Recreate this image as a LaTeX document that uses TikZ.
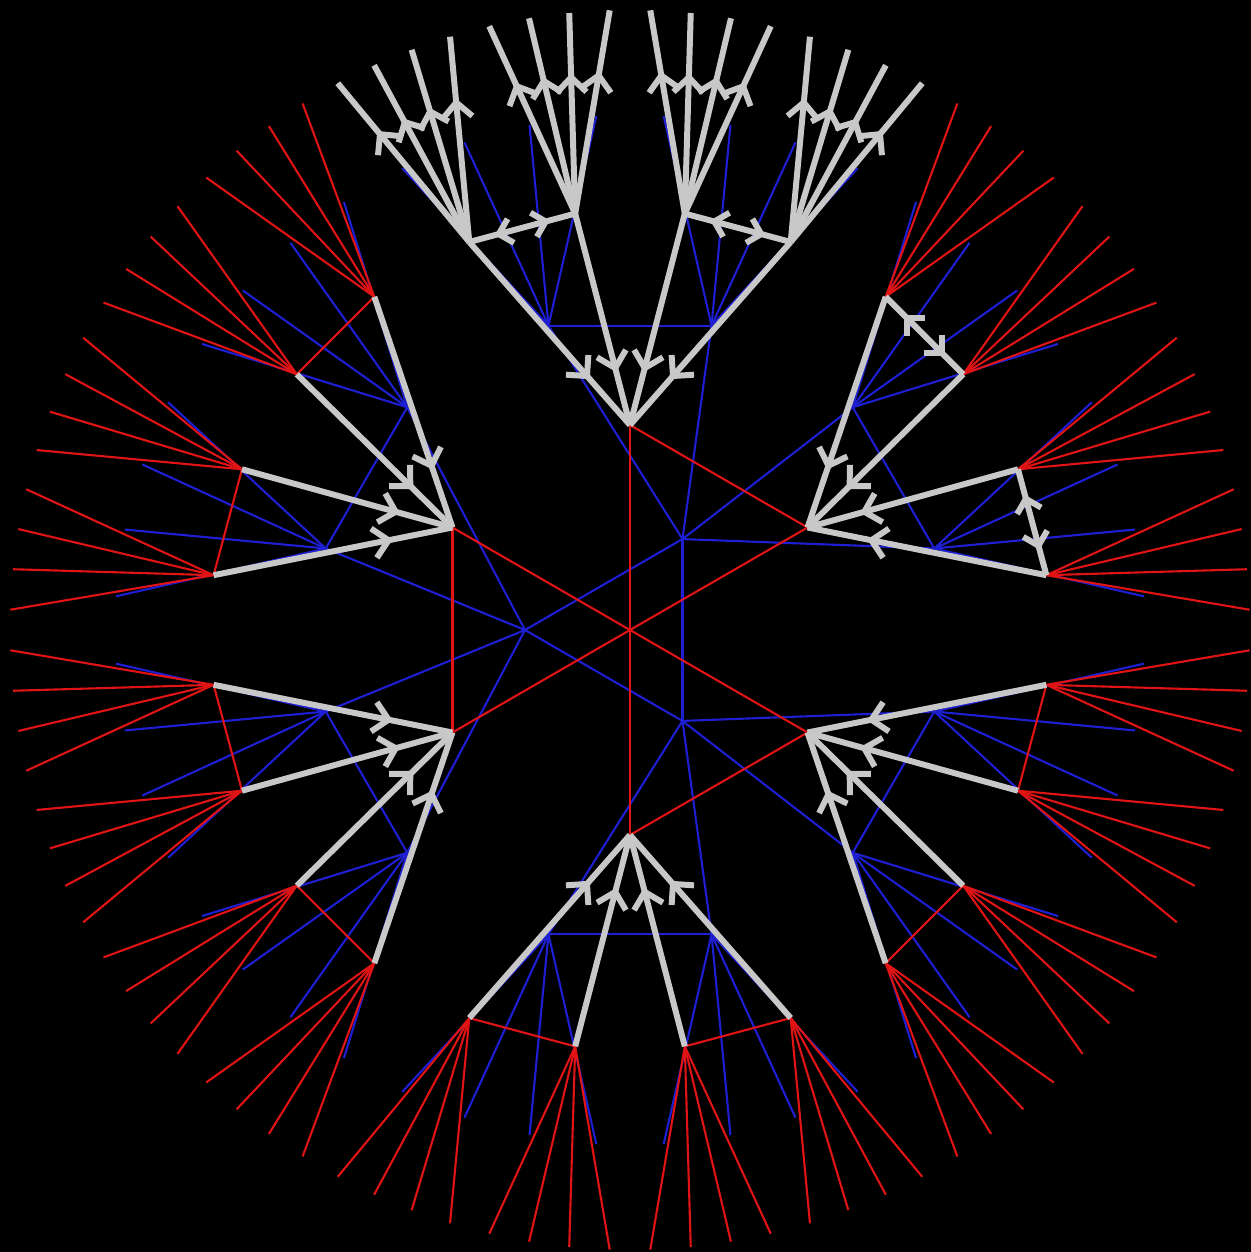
\documentclass[tikz,border=0pt]{standalone}
\usepackage{xcolor}
\usepackage{tikz}
\usetikzlibrary{arrows.meta,decorations.markings}
\definecolor{edgeG}{HTML}{C8C8C8}
\definecolor{edgeR}{HTML}{E01414}
\definecolor{edgeB}{HTML}{1E1ED2}
\tikzset{
  gtree/.style={edgeG,line width=1.7pt},
  rtree/.style={edgeR,line width=0.6pt},
  btree/.style={edgeB,line width=0.6pt},
  tipat/.style={postaction={decorate,decoration={markings,
    mark=at position #1 with {\arrow{Straight Barb[angle=90:6pt]}}}}},
  bothtip/.style={postaction={decorate,decoration={markings,
    mark=at position 0.24 with {\arrowreversed{Straight Barb[angle=90:5pt]}},
    mark=at position 0.76 with {\arrow{Straight Barb[angle=90:5pt]}}}}},
}

\begin{document}
\begin{tikzpicture}[x=1cm,y=1cm]
  \fill[black] (-6.30,-6.22) rectangle (6.21,6.30);
  \useasboundingbox (-6.30,-6.22) rectangle (6.21,6.30);
  \coordinate (c) at (0,0);
  % second layout (blue)
  \foreach \b in {60,180,300} {
    \coordinate (b\b) at (\b:1.05);
    \foreach \k/\a in {1/-45,2/-15,3/15,4/45} {
      \coordinate (b\b-\k) at ({\b+\a}:3.15);
      \foreach \l/\e in {1/-11.25,2/-3.75,3/3.75,4/11.25}
        \coordinate (b\b-\k-\l) at ({\b+\a+\e}:5.15);
    }
  }
  \foreach \b/\n in {60/180,180/300,300/60}
    \draw[btree] (b\b) -- (b\n);
  \foreach \b in {60,180,300} {
    \foreach \k in {1,...,4} {
      \draw[btree] (b\b) -- (b\b-\k);
      \foreach \l in {1,...,4}
        \draw[btree] (b\b-\k) -- (b\b-\k-\l);
    }
    \draw[btree] (b\b-1) -- (b\b-2);
    \draw[btree] (b\b-3) -- (b\b-4);
  }
  % first layout (red, gray path)
  \foreach \h in {30,90,...,330} {
    \coordinate (h\h) at (\h:2.05);
    \foreach \k/\a in {1/-22.5,2/-7.5,3/7.5,4/22.5} {
      \coordinate (h\h-\k) at ({\h+\a}:4.2);
      \foreach \l/\e in {1/-5.625,2/-1.875,3/1.875,4/5.625}
        \coordinate (h\h-\k-\l) at ({\h+\a+\e}:6.2);
    }
    \draw[rtree] (c) -- (h\h);
  }
  \foreach \h/\g in {90/30,150/210,270/330}
    \draw[rtree] (h\h) -- (h\g);
  \foreach \h in {30,150,210,270,330}
    \foreach \k in {1,...,4}
      \foreach \l in {1,...,4}
        \draw[rtree] (h\h-\k) -- (h\h-\k-\l);
  \foreach \h in {150,210,270,330} {
    \draw[rtree] (h\h-1) -- (h\h-2);
    \draw[rtree] (h\h-3) -- (h\h-4);
  }
  \foreach \h in {30,90,...,330}
    \foreach \k in {1,...,4}
      \draw[gtree,tipat=0.75] (h\h-\k) -- (h\h);
  \draw[edgeG,line width=1pt] (h30-3) -- (h30);
  \foreach \k in {1,...,4}
    \foreach \l in {1,...,4}
      \draw[gtree,tipat=0.7] (h90-\k) -- (h90-\k-\l);
  \foreach \h in {90,30} {
    \draw[gtree,bothtip] (h\h-1) -- (h\h-2);
    \draw[gtree,bothtip] (h\h-3) -- (h\h-4);
  }
\end{tikzpicture}
\end{document}
